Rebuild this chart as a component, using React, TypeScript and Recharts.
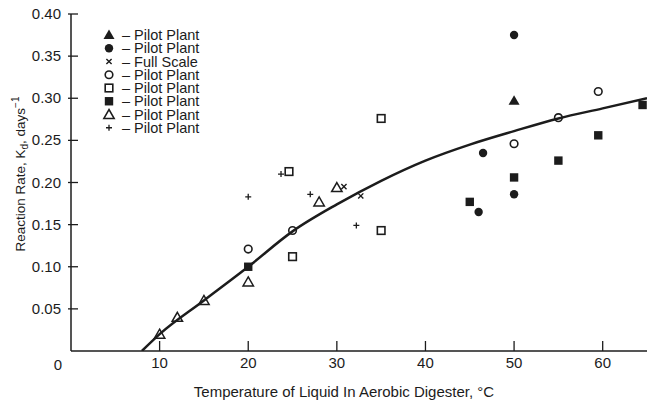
import React from 'react';
import { ComposedChart, Line, Scatter, XAxis, YAxis, Legend } from 'recharts';

// temperature (°C) / reaction rate (1/day) pairs
const filledTriangle = [{ t: 50, k: 0.297 }];
const filledCircle = [
  { t: 50, k: 0.375 },
  { t: 46.5, k: 0.235 },
  { t: 50, k: 0.186 },
  { t: 46, k: 0.165 },
];
const fullScale = [
  { t: 30.8, k: 0.195 },
  { t: 32.7, k: 0.184 },
];
const openCircle = [
  { t: 59.5, k: 0.308 },
  { t: 55, k: 0.277 },
  { t: 50, k: 0.246 },
  { t: 25, k: 0.143 },
  { t: 20, k: 0.121 },
];
const openSquare = [
  { t: 24.6, k: 0.213 },
  { t: 35, k: 0.276 },
  { t: 35, k: 0.143 },
  { t: 25, k: 0.112 },
];
const filledSquare = [
  { t: 64.5, k: 0.292 },
  { t: 59.5, k: 0.256 },
  { t: 55, k: 0.226 },
  { t: 50, k: 0.206 },
  { t: 45, k: 0.177 },
  { t: 20, k: 0.1 },
];
const openTriangle = [
  { t: 10, k: 0.02 },
  { t: 12, k: 0.04 },
  { t: 15, k: 0.06 },
  { t: 20, k: 0.082 },
  { t: 28, k: 0.177 },
  { t: 30, k: 0.194 },
];
const plusPoints = [
  { t: 23.7, k: 0.21 },
  { t: 20, k: 0.183 },
  { t: 27, k: 0.186 },
  { t: 32.2, k: 0.149 },
];

// the drawn trend line
const fitCurve = [
  { t: 8, k: 0 },
  { t: 10, k: 0.02 },
  { t: 15, k: 0.06 },
  { t: 20, k: 0.1 },
  { t: 25, k: 0.142 },
  { t: 30, k: 0.174 },
  { t: 35, k: 0.202 },
  { t: 40, k: 0.226 },
  { t: 45, k: 0.245 },
  { t: 50, k: 0.261 },
  { t: 55, k: 0.276 },
  { t: 60, k: 0.288 },
  { t: 65, k: 0.3 },
];

const xTicks = [0, 10, 20, 30, 40, 50, 60];
const yTicks = [0.05, 0.1, 0.15, 0.2, 0.25, 0.3, 0.35, 0.4];
const legendLabels = [
  'Pilot Plant',
  'Pilot Plant',
  'Full Scale',
  'Pilot Plant',
  'Pilot Plant',
  'Pilot Plant',
  'Pilot Plant',
  'Pilot Plant',
];

const INK = '#1c1c1c';
const FONT = '"Liberation Sans", Arial, sans-serif';

type Pt = { cx?: number; cy?: number };

const FilledTri = ({ cx = 0, cy = 0 }: Pt) => (
  <path d={`M${cx},${cy - 5.5}L${cx + 5.5},${cy + 4}L${cx - 5.5},${cy + 4}Z`} fill={INK} />
);
const OpenTri = ({ cx = 0, cy = 0 }: Pt) => (
  <path
    d={`M${cx},${cy - 5}L${cx + 5.2},${cy + 4}L${cx - 5.2},${cy + 4}Z`}
    fill="none"
    stroke={INK}
    strokeWidth={1.5}
  />
);
const FilledCirc = ({ cx = 0, cy = 0 }: Pt) => <circle cx={cx} cy={cy} r={4.2} fill={INK} />;
const OpenCirc = ({ cx = 0, cy = 0 }: Pt) => (
  <circle cx={cx} cy={cy} r={3.8} fill="none" stroke={INK} strokeWidth={1.6} />
);
const OpenSq = ({ cx = 0, cy = 0 }: Pt) => (
  <rect x={cx - 3.8} y={cy - 3.8} width={7.6} height={7.6} fill="none" stroke={INK} strokeWidth={1.6} />
);
const FilledSq = ({ cx = 0, cy = 0 }: Pt) => (
  <rect x={cx - 4.2} y={cy - 4.2} width={8.4} height={8.4} fill={INK} />
);
const Cross = ({ cx = 0, cy = 0 }: Pt) => (
  <path
    d={`M${cx - 2.6},${cy - 2.6}L${cx + 2.6},${cy + 2.6}M${cx + 2.6},${cy - 2.6}L${cx - 2.6},${cy + 2.6}`}
    stroke={INK}
    strokeWidth={1.4}
  />
);
const Plus = ({ cx = 0, cy = 0 }: Pt) => (
  <path
    d={`M${cx - 3},${cy}L${cx + 3},${cy}M${cx},${cy - 3}L${cx},${cy + 3}`}
    stroke={INK}
    strokeWidth={1.3}
  />
);

const legendShapes = [FilledTri, FilledCirc, Cross, OpenCirc, OpenSq, FilledSq, OpenTri, Plus];

const YTick = (props: any) => {
  const { x, y, payload } = props;
  return (
    <g>
      <line x1={x - 3} x2={x + 7} y1={y} y2={y} stroke={INK} strokeWidth={1.3} />
      <text x={x - 10} y={y + 5} textAnchor="end" fontSize={15} fontFamily={FONT} fill={INK}>
        {payload.value.toFixed(2)}
      </text>
    </g>
  );
};

const XTick = (props: any) => {
  const { x, y, payload } = props;
  if (payload.value === 0) {
    return (
      <text x={x - 13} y={y + 19} textAnchor="middle" fontSize={15} fontFamily={FONT} fill={INK}>
        0
      </text>
    );
  }
  return (
    <g>
      <line x1={x} x2={x} y1={y} y2={y - 10} stroke={INK} strokeWidth={1.3} />
      <text x={x} y={y + 17} textAnchor="middle" fontSize={15} fontFamily={FONT} fill={INK}>
        {payload.value}
      </text>
    </g>
  );
};

const LegendBox = () => (
  <svg width={240} height={140} style={{ display: 'block' }}>
    {legendLabels.map((label, i) => {
      const cy = 35 + i * 13.25;
      const Shape = legendShapes[i];
      return (
        <g key={i}>
          <Shape cx={109} cy={cy} />
          <text x={122} y={cy + 5} fontSize={14.5} fontFamily={FONT} fill={INK}>
            {'– ' + label}
          </text>
        </g>
      );
    })}
  </svg>
);

export default function App() {
  return (
    <div style={{ position: 'absolute', left: 0, top: 0, background: '#fff' }}>
      <ComposedChart width={647} height={403} margin={{ top: 14, right: 0, bottom: 0, left: 0 }}>
        <XAxis
          dataKey="t"
          type="number"
          domain={[0, 65]}
          ticks={xTicks}
          height={52}
          tickSize={0}
          tickMargin={0}
          tickLine={false}
          axisLine={{ stroke: INK, strokeWidth: 1.5 }}
          tick={<XTick />}
          allowDataOverflow
        />
        <YAxis
          type="number"
          domain={[0, 0.4]}
          ticks={yTicks}
          width={71}
          tickSize={0}
          tickMargin={0}
          tickLine={false}
          axisLine={{ stroke: INK, strokeWidth: 1.5 }}
          tick={<YTick />}
          allowDataOverflow
        />
        <Legend
          layout="horizontal"
          verticalAlign="middle"
          align="center"
          content={<LegendBox />}
          wrapperStyle={{ left: 0, top: 0, width: 240, height: 140 }}
        />
        <Line
          data={fitCurve}
          dataKey="k"
          type="monotone"
          stroke={INK}
          strokeWidth={2.5}
          dot={false}
          activeDot={false}
          isAnimationActive={false}
          legendType="none"
        />
        <Scatter data={filledTriangle} dataKey="k" shape={<FilledTri />} isAnimationActive={false} />
        <Scatter data={filledCircle} dataKey="k" shape={<FilledCirc />} isAnimationActive={false} />
        <Scatter data={fullScale} dataKey="k" shape={<Cross />} isAnimationActive={false} />
        <Scatter data={openCircle} dataKey="k" shape={<OpenCirc />} isAnimationActive={false} />
        <Scatter data={openSquare} dataKey="k" shape={<OpenSq />} isAnimationActive={false} />
        <Scatter data={filledSquare} dataKey="k" shape={<FilledSq />} isAnimationActive={false} />
        <Scatter data={openTriangle} dataKey="k" shape={<OpenTri />} isAnimationActive={false} />
        <Scatter data={plusPoints} dataKey="k" shape={<Plus />} isAnimationActive={false} />
      </ComposedChart>
      <svg width={647} height={403} style={{ position: 'absolute', left: 0, top: 0, pointerEvents: 'none' }}>
        <text
          x={25}
          y={174}
          transform="rotate(-90, 25, 174)"
          textAnchor="middle"
          fontSize={13.5}
          fontFamily={FONT}
          fill={INK}
        >
          Reaction Rate, K
          <tspan fontSize={10} dy={3}>d</tspan>
          <tspan dy={-3}>, days</tspan>
          <tspan fontSize={10} dy={-6}>−1</tspan>
        </text>
        <text x={344} y={397} textAnchor="middle" fontSize={15} fontFamily={FONT} fill={INK}>
          Temperature of Liquid In Aerobic Digester, °C
        </text>
      </svg>
    </div>
  );
}
